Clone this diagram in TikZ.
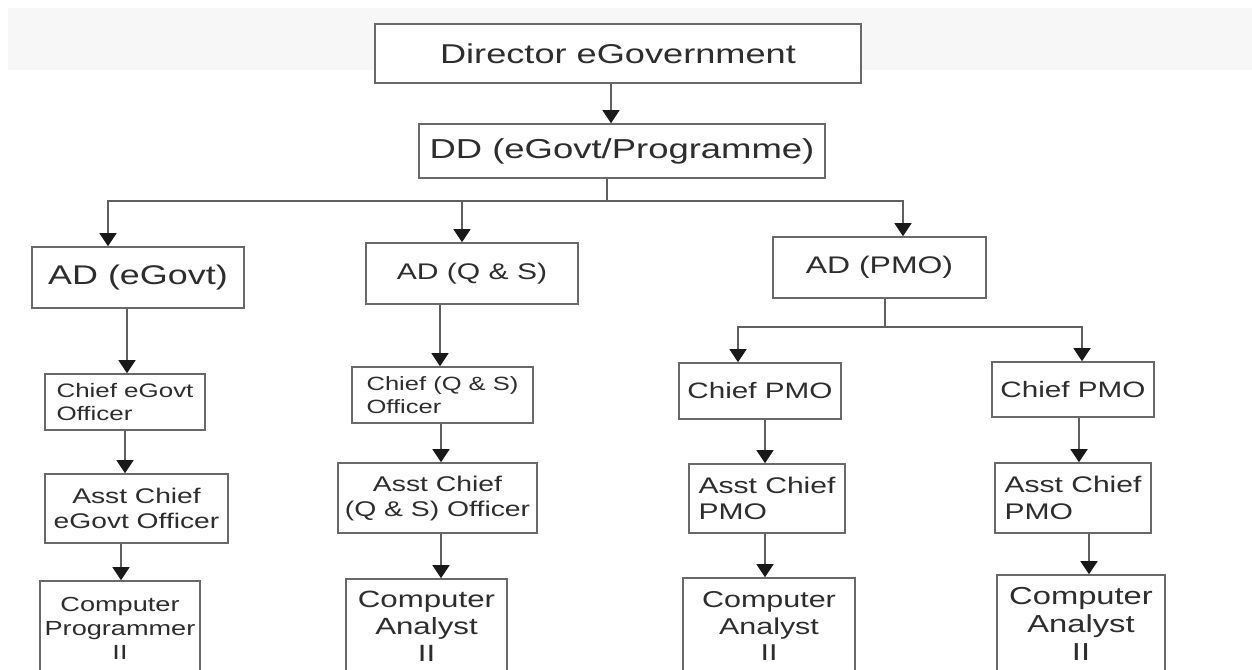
\documentclass[tikz,border=0pt]{standalone}
\usepackage{fontspec}
\setmainfont{Liberation Sans}[FakeStretch=1.33]
\usetikzlibrary{arrows.meta}
\definecolor{linegray}{RGB}{95,95,95}
\definecolor{boxgray}{RGB}{105,105,105}
\definecolor{tipdark}{RGB}{25,25,25}
\definecolor{textgray}{RGB}{45,45,45}
\definecolor{bandgray}{RGB}{247,247,247}
\tikzset{
  orgbox/.style={draw=boxgray, line width=1.6pt, fill=white, inner sep=0pt, text=textgray},
  fsz/.style 2 args={font=\fontsize{#1}{#2}\selectfont},
  conn/.style={draw=linegray, line width=1.5pt},
  arr/.style={conn, -{Triangle[width=17pt,length=13pt,color=tipdark]}},
}
% name, x1, y1, x2, y2, options, text
\newcommand{\mkbox}[7]{%
  \node[orgbox, minimum width={(#4-#2)*1pt}, minimum height={(#5-#3)*1pt}, #6]
    (#1) at ({(#2+#4)/2},{(#3+#5)/2}) {#7};}
\begin{document}
\begin{tikzpicture}[x=1pt, y=-1pt]
\useasboundingbox (0,0) rectangle (1252,669);
\clip (0,0) rectangle (1252,669);
\fill[bandgray] (8,8) rectangle (1252,70);

\mkbox{dir}{375}{24}{861}{83}{fsz={27.2}{32}, align=center}{Director eGovernment}
\mkbox{dd}{419}{124}{825}{178}{fsz={27.4}{32}, align=center}{DD (eGovt/Programme)}

\mkbox{ade}{32}{247}{244}{308}{fsz={27}{32}, align=center}{AD (eGovt)}
\mkbox{adq}{366}{243}{578}{304}{fsz={22.6}{26}, align=center}{AD (Q \& S)}
\mkbox{adp}{773}{237}{986}{298}{fsz={24}{28}, align=center}{AD (PMO)}

\mkbox{ce}{45}{374}{205}{430}{fsz={19.5}{23}, align=left}{Chief eGovt\\Officer}
\mkbox{cq}{352}{367}{533}{423}{fsz={19.2}{22.5}, align=left}{Chief (Q \& S)\\Officer}
\mkbox{cp1}{679}{363}{841}{419}{fsz={22.3}{26}, align=center}{Chief PMO}
\mkbox{cp2}{992}{362}{1154}{417}{fsz={22.3}{26}, align=center}{Chief PMO}

\mkbox{ae}{45}{474}{228}{543}{fsz={21.2}{25}, align=center}{Asst Chief\\eGovt Officer}
\mkbox{aq}{338}{463}{537}{533}{fsz={21.3}{25}, align=center}{Asst Chief\\(Q \& S) Officer}
\mkbox{ap1}{689}{464}{845}{533}{fsz={22.6}{26.5}, align=left}{Asst Chief\\PMO}
\mkbox{ap2}{995}{463}{1151}{533}{fsz={22.6}{26.5}, align=left}{Asst Chief\\PMO}

\mkbox{pe}{40}{581}{200}{675}{fsz={20.4}{24}, align=center}{Computer\\Programmer\\II}
\mkbox{pq}{346}{579}{507}{673}{fsz={23.5}{27}, align=center}{Computer\\Analyst\\II}
\mkbox{pp1}{683}{578}{855}{674}{fsz={22.9}{26.5}, align=center}{Computer\\Analyst\\II}
\mkbox{pp2}{997}{575}{1165}{672}{fsz={24.6}{28}, align=center}{Computer\\Analyst\\II}

% Director -> DD
\coordinate (x1) at (611,0);
\draw[arr] (dir.south -| x1) -- (dd.north -| x1);

% DD -> ADs
\coordinate (b0) at (607,201);
\coordinate (bl) at (108,201);
\coordinate (bm) at (462,201);
\coordinate (br) at (903,201);
\draw[conn] (dd.south -| b0) -- (b0);
\draw[arr] (b0) -- (bl) -- (ade.north -| bl);
\draw[arr] (b0) -- (br) -- (adp.north -| br);
\draw[arr] (bm) -- (adq.north -| bm);

% eGovt column
\coordinate (e1) at (127,0);
\coordinate (e2) at (125,0);
\coordinate (e3) at (121,0);
\draw[arr] (ade.south -| e1) -- (ce.north -| e1);
\draw[arr] (ce.south -| e2) -- (ae.north -| e2);
\draw[arr] (ae.south -| e3) -- (pe.north -| e3);

% Q&S column
\coordinate (q1) at (440,0);
\coordinate (q2) at (441,0);
\draw[arr] (adq.south -| q1) -- (cq.north -| q1);
\draw[arr] (cq.south -| q2) -- (aq.north -| q2);
\draw[arr] (aq.south -| q2) -- (pq.north -| q2);

% PMO split
\coordinate (p0) at (885,327);
\coordinate (pl) at (738,327);
\coordinate (pr) at (1082,327);
\draw[conn] (adp.south -| p0) -- (p0);
\draw[arr] (p0) -- (pl) -- (cp1.north -| pl);
\draw[arr] (p0) -- (pr) -- (cp2.north -| pr);

% PMO left column
\coordinate (m1) at (765,0);
\draw[arr] (cp1.south -| m1) -- (ap1.north -| m1);
\draw[arr] (ap1.south -| m1) -- (pp1.north -| m1);

% PMO right column
\coordinate (r1) at (1079,0);
\coordinate (r2) at (1089,0);
\draw[arr] (cp2.south -| r1) -- (ap2.north -| r1);
\draw[arr] (ap2.south -| r2) -- (pp2.north -| r2);
\end{tikzpicture}
\end{document}
